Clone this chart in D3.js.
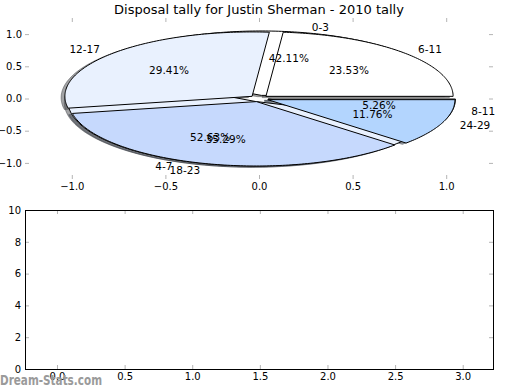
<!DOCTYPE html>
<html><head><meta charset="utf-8">
<script src="https://cdn.jsdelivr.net/npm/d3@7"></script>
<style>
body{margin:0;background:#fff;}
svg text{font-family:"DejaVu Sans",sans-serif;}
</style>
</head><body>
<svg id="chart" width="520" height="390"></svg>
<script>
// ---- data ----
const chartTitle = "Disposal tally for Justin Sherman - 2010 tally";
const pie1Labels = ["0-3", "4-7", "8-11"];
const pie1Values = [8, 10, 1];
const pie2Labels = ["6-11", "12-17", "18-23", "24-29"];
const pie2Values = [4, 5, 6, 2];
const pieColors = ["#ffffff", "#e9f1fe", "#c6d9fd", "#b3d5fe"];
const pieTicks = [-1.0, -0.5, 0.0, 0.5, 1.0];
const barXTicks = [0, 0.5, 1, 1.5, 2, 2.5, 3];
const barYTicks = [0, 2, 4, 6, 8, 10];
const watermark = "Dream-Stats.com";

// ---- layout ----
const svg = d3.select("#chart");
const boxTop = {l: 25, r: 493, t: 18, b: 179};
const boxBot = {l: 25, r: 493, t: 210, b: 369};
const x = d3.scaleLinear().domain([-1.25, 1.25]).range([boxTop.l, boxTop.r]);
const y = d3.scaleLinear().domain([-1.25, 1.25]).range([boxTop.b, boxTop.t]);
const bx = d3.scaleLinear().domain([-0.2366, 3.224]).range([boxBot.l, boxBot.r]);
const by = d3.scaleLinear().domain([0, 10]).range([boxBot.b, boxBot.t]);

const explode = 0.05, labelDist = 1.1, pctDist = 0.6, shadowOff = -0.02;
const line = d3.line().x(p => x(p[0])).y(p => y(p[1]));

function wedgePts(cx, cy, a0, a1) {
  const pts = [[cx, cy]];
  const n = Math.max(4, Math.ceil((a1 - a0) / (Math.PI / 180)));
  for (let i = 0; i <= n; i++) {
    const t = a0 + (a1 - a0) * i / n;
    pts.push([cx + Math.cos(t), cy + Math.sin(t)]);
  }
  pts.push([cx, cy]);
  return pts;
}

const pieGen = d3.pie().sort(null).value(d => d).startAngle(0).endAngle(2 * Math.PI);
function prep(values, labels) {
  const total = d3.sum(values);
  return pieGen(values).map((a, i) => {
    const mid = (a.startAngle + a.endAngle) / 2;
    return {
      a0: a.startAngle, a1: a.endAngle, mid,
      cx: explode * Math.cos(mid), cy: explode * Math.sin(mid),
      label: labels[i], color: pieColors[i],
      pct: (100 * values[i] / total).toFixed(2) + "%"
    };
  });
}
const pies = [prep(pie1Values, pie1Labels), prep(pie2Values, pie2Labels)];

function shade(c) {
  const r = d3.rgb(c);
  return d3.rgb(r.r * 0.3, r.g * 0.3, r.b * 0.3).toString();
}

const gPie = svg.append("g");
pies.forEach(p => {
  gPie.selectAll(null).data(p).enter().append("path")
    .attr("d", d => line(wedgePts(d.cx + shadowOff, d.cy + shadowOff, d.a0, d.a1)) + "Z")
    .attr("fill", d => shade(d.color)).attr("fill-opacity", 0.5)
    .attr("stroke", d => shade(d.color)).attr("stroke-opacity", 0.5).attr("stroke-width", 1);
});
pies.forEach(p => {
  gPie.selectAll(null).data(p).enter().append("path")
    .attr("d", d => line(wedgePts(d.cx, d.cy, d.a0, d.a1)) + "Z")
    .attr("fill", d => d.color).attr("stroke", "#000").attr("stroke-width", 1)
    .attr("stroke-linejoin", "round");
});
pies.forEach(p => {
  gPie.selectAll(null).data(p).enter().append("text")
    .attr("x", d => x(d.cx + labelDist * Math.cos(d.mid)))
    .attr("y", d => y(d.cy + labelDist * Math.sin(d.mid)))
    .attr("text-anchor", d => Math.cos(d.mid) > 0 ? "start" : "end")
    .attr("dominant-baseline", "central")
    .attr("font-size", 10.5).attr("fill", "#000")
    .text(d => d.label);
  gPie.selectAll(null).data(p).enter().append("text")
    .attr("x", d => x(d.cx + pctDist * Math.cos(d.mid)))
    .attr("y", d => y(d.cy + pctDist * Math.sin(d.mid)))
    .attr("text-anchor", "middle")
    .attr("dominant-baseline", "central")
    .attr("font-size", 10.5).attr("fill", "#000")
    .text(d => d.pct);
});

// ---- axes helpers ----
const tickColor = "#b4b4b4";
function styleAxis(g) {
  g.select(".domain").remove();
  g.selectAll(".tick line").attr("stroke", tickColor).attr("stroke-width", 1);
  g.selectAll(".tick text").attr("fill", "#000").attr("font-size", 10)
    .attr("font-family", "DejaVu Sans");
}
const fmt1 = d3.format(".1f");

svg.append("g").attr("transform", `translate(${boxTop.l},0)`)
  .call(d3.axisLeft(y).tickValues(pieTicks).tickFormat(fmt1).tickSize(-4).tickPadding(3)).call(styleAxis);
svg.append("g").attr("transform", `translate(${boxTop.r},0)`)
  .call(d3.axisRight(y).tickValues(pieTicks).tickFormat("").tickSize(-4)).call(styleAxis);
svg.append("g").attr("transform", `translate(0,${boxTop.b})`)
  .call(d3.axisBottom(x).tickValues(pieTicks).tickFormat(fmt1).tickSize(-4).tickPadding(4)).call(styleAxis);
svg.append("g").attr("transform", `translate(0,${boxTop.t})`)
  .call(d3.axisTop(x).tickValues(pieTicks).tickFormat("").tickSize(-4)).call(styleAxis);

svg.append("g").attr("transform", `translate(${boxBot.l},0)`)
  .call(d3.axisLeft(by).tickValues(barYTicks).tickFormat(d3.format("d")).tickSize(-4).tickPadding(4)).call(styleAxis);
svg.append("g").attr("transform", `translate(${boxBot.r},0)`)
  .call(d3.axisRight(by).tickValues(barYTicks).tickFormat("").tickSize(-4)).call(styleAxis);
svg.append("g").attr("transform", `translate(0,${boxBot.b})`)
  .call(d3.axisBottom(bx).tickValues(barXTicks).tickFormat(fmt1).tickSize(-4).tickPadding(4)).call(styleAxis);
svg.append("g").attr("transform", `translate(0,${boxBot.t})`)
  .call(d3.axisTop(bx).tickValues(barXTicks).tickFormat("").tickSize(-4)).call(styleAxis);
svg.append("rect")
  .attr("x", bx.range()[0] + 0.5).attr("y", by.range()[1] + 0.5)
  .attr("width", bx.range()[1] - bx.range()[0]).attr("height", by.range()[0] - by.range()[1])
  .attr("fill", "none").attr("stroke", "#000").attr("stroke-width", 1);

svg.append("text").attr("x", (boxTop.l + boxTop.r) / 2).attr("y", 14)
  .attr("text-anchor", "middle").attr("font-size", 13).attr("fill", "#000")
  .text(chartTitle);

svg.append("text").attr("x", 0).attr("y", 385)
  .attr("font-size", 14.5).attr("font-weight", "bold").attr("fill", "#9a9a9a")
  .attr("textLength", 102).attr("lengthAdjust", "spacingAndGlyphs")
  .text(watermark);
</script>
</body></html>
